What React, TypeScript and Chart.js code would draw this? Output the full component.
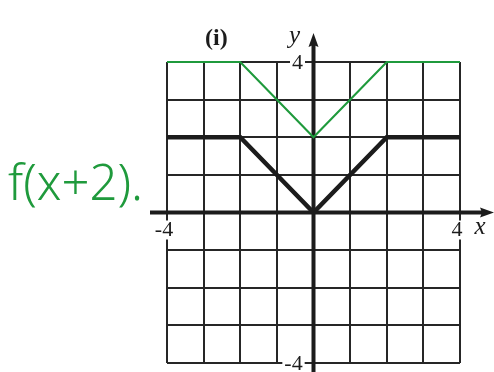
import React, { useEffect, useRef } from "react";
import { Chart, registerables } from "chart.js";

Chart.register(...registerables);

const xValues = [-4, -2, 0, 2, 4];
const fValues = [2, 2, 0, 2, 2];
const shiftedValues = [4, 4, 2, 4, 4];
const axisMin = -4;
const axisMax = 4;
const tickLabels = ["-4", "4"];
const panelLabel = "(i)";
const handLabel = "f(x+2).";

const overlay = {
  id: "overlay",
  beforeDatasetsDraw(chart: any) {
    const { ctx } = chart;
    const xs = chart.scales.x;
    const ys = chart.scales.y;
    const x0 = xs.getPixelForValue(0);
    const y0 = ys.getPixelForValue(0);
    const left = xs.getPixelForValue(axisMin);
    const right = xs.getPixelForValue(axisMax);
    const top = ys.getPixelForValue(axisMax);
    const bottom = ys.getPixelForValue(axisMin);
    ctx.save();
    ctx.strokeStyle = "#1c1c1c";
    ctx.fillStyle = "#1c1c1c";
    ctx.lineWidth = 4;
    // x axis
    ctx.beginPath();
    ctx.moveTo(left - 17, y0);
    ctx.lineTo(right + 24, y0);
    ctx.stroke();
    ctx.beginPath();
    ctx.moveTo(right + 34, y0);
    ctx.lineTo(right + 20, y0 - 5);
    ctx.lineTo(right + 22, y0);
    ctx.lineTo(right + 20, y0 + 5);
    ctx.closePath();
    ctx.fill();
    // y axis
    ctx.beginPath();
    ctx.moveTo(x0, bottom + 12);
    ctx.lineTo(x0, top - 20);
    ctx.stroke();
    ctx.beginPath();
    ctx.moveTo(x0, top - 29);
    ctx.lineTo(x0 - 5, top - 15);
    ctx.lineTo(x0, top - 17);
    ctx.lineTo(x0 + 5, top - 15);
    ctx.closePath();
    ctx.fill();
    ctx.restore();
  },
  afterDraw(chart: any) {
    const { ctx } = chart;
    const xs = chart.scales.x;
    const ys = chart.scales.y;
    const x0 = xs.getPixelForValue(0);
    const y0 = ys.getPixelForValue(0);
    const left = xs.getPixelForValue(axisMin);
    const right = xs.getPixelForValue(axisMax);
    const top = ys.getPixelForValue(axisMax);
    const bottom = ys.getPixelForValue(axisMin);
    ctx.save();
    ctx.textBaseline = "middle";
    ctx.textAlign = "center";
    ctx.font = "22px 'Liberation Serif'";
    const labels = [
      { t: tickLabels[0], x: left - 3, y: y0 + 17 },
      { t: tickLabels[1], x: right - 3, y: y0 + 17 },
      { t: tickLabels[1], x: x0 - 16, y: top },
      { t: tickLabels[0], x: x0 - 20, y: bottom },
    ];
    for (const l of labels) {
      const w = ctx.measureText(l.t).width;
      ctx.fillStyle = "#ffffff";
      ctx.fillRect(l.x - w / 2 - 2, l.y - 9, w + 4, 19);
      ctx.fillStyle = "#1c1c1c";
      ctx.fillText(l.t, l.x, l.y + 1);
    }
    ctx.font = "italic 25px 'Liberation Serif'";
    ctx.fillText("x", right + 20, y0 + 15);
    ctx.fillText("y", x0 - 19, top - 26);
    ctx.font = "bold 24px 'Liberation Serif'";
    ctx.fillText(panelLabel, xs.getPixelForValue(-2.65), top - 23);
    ctx.fillStyle = "#1f9a3c";
    ctx.textAlign = "left";
    ctx.textBaseline = "alphabetic";
    ctx.font = "300 49px 'Noto Sans'";
    ctx.fillText(handLabel, 8, y0 - 13);
    ctx.restore();
  },
};

export default function App() {
  const ref = useRef<HTMLCanvasElement>(null);
  useEffect(() => {
    if (!ref.current) return;
    const chart = new Chart(ref.current, {
      type: "scatter",
      data: {
        datasets: [
          {
            label: "f(x)",
            data: xValues.map((x, i) => ({ x, y: fValues[i] })),
            showLine: true,
            borderColor: "#1c1c1c",
            borderWidth: 4.5,
            pointRadius: 0,
            clip: false as any,
            tension: 0,
          },
          {
            label: "f(x+2)",
            data: xValues.map((x, i) => ({ x, y: shiftedValues[i] })),
            showLine: true,
            borderColor: "#1f9a3c",
            borderWidth: 2.2,
            pointRadius: 0,
            clip: false as any,
            tension: 0,
          },
        ],
      },
      options: {
        animation: false,
        responsive: false,
        events: [],
        layout: { padding: { left: 167, right: 34, top: 62, bottom: 9 } },
        plugins: { legend: { display: false }, tooltip: { enabled: false } },
        scales: {
          x: {
            type: "linear",
            min: axisMin,
            max: axisMax,
            ticks: { display: false, stepSize: 1 },
            grid: { color: "#262626", lineWidth: 2, drawTicks: false },
            border: { display: false },
          },
          y: {
            type: "linear",
            min: axisMin,
            max: axisMax,
            ticks: { display: false, stepSize: 1 },
            grid: { color: "#262626", lineWidth: 2, drawTicks: false },
            border: { display: false },
          },
        },
      },
      plugins: [overlay],
    });
    return () => chart.destroy();
  }, []);
  return (
    <div style={{ position: "absolute", left: 0, top: 0, width: 494, height: 372, background: "#fff" }}>
      <canvas ref={ref} width={494} height={372} style={{ width: 494, height: 372 }} />
    </div>
  );
}
